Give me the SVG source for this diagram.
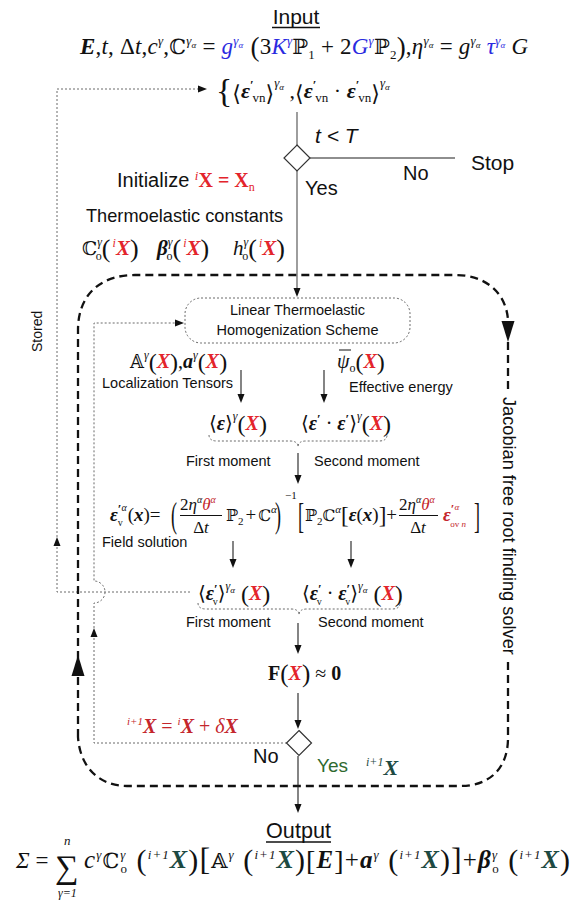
<svg xmlns="http://www.w3.org/2000/svg" width="573" height="907" viewBox="0 0 573 907">
<defs>
<style>
.s{font-family:"Liberation Sans",Arial,sans-serif;fill:#111}
.m{font-family:"Liberation Serif","Times New Roman","DejaVu Serif",serif;fill:#111}
.d{font-family:"DejaVu Serif","DejaVu Sans",serif}
.i{font-style:italic}
.b{font-weight:bold}
.r{fill:#e3242b}
.rr{fill:#c4262c}
.bl{fill:#2a2ae0}
.g{fill:#2f6a2f}
.t{fill:#1d4a42}
.sol{stroke:#222;stroke-width:1.1;fill:none}
.gl{stroke:#6a6a6a;stroke-width:1.3;fill:none}
.dot{stroke:#6a6a6a;stroke-width:1;stroke-dasharray:2 2;fill:none}
.dash{stroke:#111;stroke-width:2.3;stroke-dasharray:8 5;fill:none}
.lab{font-size:14.5px}
</style>
<path id="ah" d="M0,0 L-9,-3.5 L-9,3.5 Z" fill="#111"/>
<path id="big" d="M0,0 L-21,-6.5 L-21,6.5 Z" fill="#111"/>
</defs>
<rect width="573" height="907" fill="#fff"/>

<g id="connectors">
  <path class="gl" d="M297,112 V145 M297,171 V290 M310,158 H455"/>
  <use href="#ah" transform="translate(297,297) rotate(90)"/>
  <path class="dot" d="M190,592 H57 V89 H200"/>
  <use href="#ah" transform="translate(207,89)"/>
  <use href="#ah" transform="translate(57,537) rotate(-90)"/>
  <path class="dot" d="M287,743 H94 V603 A11,11 0 0 0 94,581 V323 H176"/>
  <use href="#ah" transform="translate(184,323)"/>
  <use href="#ah" transform="translate(94,628) rotate(-90)"/>
  <path class="dash" d="M78,737 V330 C78,295 100,275 135,275 H455 C485,275 506,292 508,320"/>
  <path class="dash" d="M508,342 V389"/>
  <path class="dash" d="M508,662 V738 C508,768 490,786 460,786 H127 C100,786 80,768 78,737"/>
  <use href="#big" transform="translate(508,342) rotate(90)"/>
  <use href="#big" transform="translate(78,655) rotate(-90)"/>
  <path class="sol" d="M241,370 V396 M324,370 V396 M298,453 V477 M233,541 V561 M351,541 V561 M298,623 V647 M298,693 V722 M298,756 V806"/>
  <use href="#ah" transform="translate(241,403) rotate(90)"/>
  <use href="#ah" transform="translate(324,403) rotate(90)"/>
  <use href="#ah" transform="translate(298,484) rotate(90)"/>
  <use href="#ah" transform="translate(233,568) rotate(90)"/>
  <use href="#ah" transform="translate(351,568) rotate(90)"/>
  <use href="#ah" transform="translate(298,654) rotate(90)"/>
  <use href="#ah" transform="translate(298,729) rotate(90)"/>
  <use href="#ah" transform="translate(298,813) rotate(90)"/>
  <path class="dot" d="M209,435 Q209,441 217,441 H290 Q298,441 298,447 Q298,441 306,441 H379 Q387,441 387,435"/>
  <path class="dot" d="M198,603 Q198,609 206,609 H291 Q299,609 299,615 Q299,609 307,609 H392 Q400,609 400,603"/>
</g>

<g id="input">
  <text class="s" x="296" y="24" font-size="21" text-anchor="middle">Input</text>
  <line x1="272" y1="27.5" x2="320" y2="27.5" stroke="#111" stroke-width="1.4"/>
  <text class="m" x="80" y="54" font-size="23" textLength="448" lengthAdjust="spacing"><tspan class="b i">E</tspan>,<tspan class="i">t</tspan>, Δ<tspan class="i">t</tspan>,<tspan class="i">c</tspan><tspan font-size="13" dy="-9" class="i">γ</tspan><tspan dy="9">,</tspan><tspan class="d" font-size="21">ℂ</tspan><tspan font-size="13" dy="-9" class="i">γ</tspan><tspan font-size="9" dy="3" class="i">α</tspan><tspan dy="6"> = </tspan><tspan class="bl i">g</tspan><tspan class="bl i" font-size="13" dy="-9">γ</tspan><tspan class="bl i" font-size="9" dy="3">α</tspan><tspan dy="8" font-size="27"> (</tspan><tspan dy="-2">3</tspan><tspan class="bl i">K</tspan><tspan class="bl i" font-size="13" dy="-9">γ</tspan><tspan dy="9" class="d" font-size="21">ℙ</tspan><tspan font-size="13" dy="5">1</tspan><tspan dy="-5"> + 2</tspan><tspan class="bl i">G</tspan><tspan class="bl i" font-size="13" dy="-9">γ</tspan><tspan dy="9" class="d" font-size="21">ℙ</tspan><tspan font-size="13" dy="5">2</tspan><tspan dy="-3" font-size="27">)</tspan><tspan dy="-2">,</tspan><tspan class="i">η</tspan><tspan class="i" font-size="13" dy="-9">γ</tspan><tspan class="i" font-size="9" dy="3">α</tspan><tspan dy="6"> = </tspan><tspan class="i">g</tspan><tspan class="i" font-size="13" dy="-9">γ</tspan><tspan class="i" font-size="9" dy="3">α</tspan><tspan dy="6" class="bl i"> τ</tspan><tspan class="bl i" font-size="13" dy="-9">γ</tspan><tspan class="bl i" font-size="9" dy="3">α</tspan><tspan dy="6" class="i"> G</tspan></text>
  <text class="m" x="216" y="98" font-size="22"><tspan font-size="34" dy="4">{</tspan><tspan class="d" font-size="22" dy="-1">⟨</tspan><tspan dy="-3" class="b i">ε</tspan><tspan class="b" font-size="13" dy="-9">′</tspan><tspan font-size="13" dx="-1" dy="13">vn</tspan><tspan class="d" font-size="22" dy="-1">⟩</tspan><tspan class="i" font-size="13" dy="-14">γ</tspan><tspan class="i" font-size="9" dy="3">α</tspan><tspan dy="8"> ,</tspan><tspan class="d" font-size="22" dy="3">⟨</tspan><tspan dy="-3" class="b i">ε</tspan><tspan class="b" font-size="13" dy="-9">′</tspan><tspan font-size="13" dx="-1" dy="13">vn</tspan><tspan dy="-4"> · </tspan><tspan class="b i">ε</tspan><tspan class="b" font-size="13" dy="-9">′</tspan><tspan font-size="13" dx="-1" dy="13">vn</tspan><tspan class="d" font-size="22" dy="-1">⟩</tspan><tspan class="i" font-size="13" dy="-14">γ</tspan><tspan class="i" font-size="9" dy="3">α</tspan></text>
</g>

<g id="decision-time">
  <polygon points="297,145 310,158 297,171 284,158" fill="#fff" stroke="#333" stroke-width="1.2"/>
  <text class="s i" x="315" y="143" font-size="21">t &lt; T</text>
  <text class="s" x="471" y="170" font-size="21">Stop</text>
  <text class="s" x="403" y="180" font-size="20">No</text>
  <text class="s" x="305" y="195" font-size="20">Yes</text>
</g>

<g id="initialize">
  <text class="s" x="117" y="187" font-size="20">Initialize <tspan class="m i r" font-size="13" dy="-7">i</tspan><tspan class="m b r" dy="7">X = X</tspan><tspan class="m r" font-size="12" dy="4">n</tspan></text>
  <text class="s" x="86" y="222" font-size="18.2">Thermoelastic constants</text>
  <text class="m" x="82" y="255" font-size="21"><tspan class="d" font-size="19">ℂ</tspan><tspan class="i" font-size="12" dy="-9">γ</tspan><tspan font-size="12" dx="-6" dy="14">o</tspan><tspan font-size="26" dy="-3">(</tspan><tspan class="i r" font-size="12" dx="2" dy="-10">i</tspan><tspan class="b i r" dy="8">X</tspan><tspan font-size="26" dy="2">)</tspan></text>
  <text class="m" x="157" y="255" font-size="21"><tspan class="b i">β</tspan><tspan class="i" font-size="12" dy="-9">γ</tspan><tspan font-size="12" dx="-6" dy="14">o</tspan><tspan font-size="26" dy="-3">(</tspan><tspan class="i r" font-size="12" dx="2" dy="-10">i</tspan><tspan class="b i r" dy="8">X</tspan><tspan font-size="26" dy="2">)</tspan></text>
  <text class="m" x="233" y="255" font-size="21"><tspan class="i">h</tspan><tspan class="i" font-size="12" dy="-9">γ</tspan><tspan font-size="12" dx="-6" dy="14">o</tspan><tspan font-size="26" dy="-3">(</tspan><tspan class="i r" font-size="12" dx="2" dy="-10">i</tspan><tspan class="b i r" dy="8">X</tspan><tspan font-size="26" dy="2">)</tspan></text>
</g>

<g id="homogenization">
  <rect x="185" y="298" width="225" height="45" rx="16" class="dot"/>
  <text class="s lab" x="297.5" y="315" text-anchor="middle">Linear Thermoelastic</text>
  <text class="s lab" x="297.5" y="335" text-anchor="middle">Homogenization Scheme</text>
</g>

<g id="localization">
  <text class="m" x="130" y="368" font-size="20"><tspan class="d" font-size="18">𝔸</tspan><tspan class="i" font-size="12" dy="-9">γ</tspan><tspan font-size="24" dy="11">(</tspan><tspan class="b i r" dy="-2">X</tspan><tspan font-size="24" dy="2">)</tspan><tspan dy="-2">,</tspan><tspan class="b i">a</tspan><tspan class="i" font-size="12" dy="-9">γ</tspan><tspan font-size="24" dy="11">(</tspan><tspan class="b i r" dy="-2">X</tspan><tspan font-size="24" dy="2">)</tspan></text>
  <text class="s lab" x="102" y="388">Localization Tensors</text>
</g>

<g id="effective-energy">
  <line x1="339" y1="350" x2="351" y2="350" stroke="#111" stroke-width="1"/>
  <text class="m" x="337" y="368" font-size="20"><tspan class="i">ψ</tspan><tspan font-size="12" dy="4">o</tspan><tspan font-size="24" dy="-2">(</tspan><tspan class="b i r" dy="-2">X</tspan><tspan font-size="24" dy="2">)</tspan></text>
  <text class="s lab" x="349" y="392">Effective energy</text>
</g>

<g id="moments-1">
  <text class="m" x="209" y="430" font-size="20"><tspan class="d" font-size="20">⟨</tspan><tspan class="b i">ε</tspan><tspan class="d" font-size="20">⟩</tspan><tspan class="i" font-size="12" dy="-10">γ</tspan><tspan font-size="24" dy="12">(</tspan><tspan class="b i r" dy="-2">X</tspan><tspan font-size="24" dy="2">)</tspan></text>
  <text class="m" x="301" y="430" font-size="20"><tspan class="d" font-size="20">⟨</tspan><tspan class="b i">ε</tspan><tspan class="b" font-size="13" dy="-7">′</tspan><tspan dy="7"> · </tspan><tspan class="b i">ε</tspan><tspan class="b" font-size="13" dy="-7">′</tspan><tspan class="d" font-size="20" dy="7">⟩</tspan><tspan class="i" font-size="12" dy="-10">γ</tspan><tspan font-size="24" dy="12">(</tspan><tspan class="b i r" dy="-2">X</tspan><tspan font-size="24" dy="2">)</tspan></text>
  <text class="s lab" x="186" y="466">First moment</text>
  <text class="s lab" x="314" y="466">Second moment</text>
</g>

<g id="field-solution">
  <text class="m" x="110" y="521" font-size="19"><tspan class="b i">ε</tspan><tspan class="b" font-size="13" dy="-8">′</tspan><tspan class="i" font-size="10" dy="-2">α</tspan><tspan font-size="10" dx="-9" dy="15">v</tspan><tspan dx="5" dy="-5">(</tspan><tspan class="b i">x</tspan>)=</text>
  <text class="m" font-size="20" transform="translate(171,527) scale(0.9,1.75)">(</text>
  <text class="m" x="180" y="510" font-size="17">2<tspan class="i">η</tspan><tspan class="i" font-size="10" dy="-7">α</tspan><tspan class="i rr" dy="7">θ</tspan><tspan class="i rr" font-size="10" dy="-7">α</tspan></text>
  <line x1="180" y1="515.5" x2="222" y2="515.5" stroke="#111" stroke-width="1"/>
  <text class="m" x="201" y="533" font-size="17" text-anchor="middle">Δ<tspan class="i">t</tspan></text>
  <text class="m" x="226" y="521" font-size="19"><tspan class="d" font-size="16">ℙ</tspan><tspan font-size="11" dy="4">2</tspan><tspan dx="2" dy="-4">+</tspan><tspan class="d" font-size="16" dx="2">ℂ</tspan><tspan class="i" font-size="11" dy="-8">α</tspan></text>
  <text class="m" font-size="20" transform="translate(275,527) scale(0.9,1.75)">)</text>
  <text class="m" x="285" y="499" font-size="11">−1</text>
  <text class="m" font-size="20" transform="translate(298,528) scale(0.9,1.8)">[</text>
  <text class="m" x="305" y="521" font-size="19"><tspan class="d" font-size="16">ℙ</tspan><tspan font-size="11" dy="4">2</tspan><tspan class="d" font-size="16" dy="-4">ℂ</tspan><tspan class="i" font-size="11" dy="-8">α</tspan><tspan font-size="23" dy="10">[</tspan><tspan class="b i" dy="-2">ε</tspan>(<tspan class="b i">x</tspan>)<tspan font-size="23" dy="2">]</tspan><tspan dy="-2">+</tspan></text>
  <text class="m" x="399" y="510" font-size="17">2<tspan class="i">η</tspan><tspan class="i" font-size="10" dy="-7">α</tspan><tspan class="i rr" dy="7">θ</tspan><tspan class="i rr" font-size="10" dy="-7">α</tspan></text>
  <line x1="399" y1="515.5" x2="438" y2="515.5" stroke="#111" stroke-width="1"/>
  <text class="m" x="418" y="533" font-size="17" text-anchor="middle">Δ<tspan class="i">t</tspan></text>
  <text class="m rr" x="443" y="521" font-size="19"><tspan class="b i">ε</tspan><tspan class="b" font-size="13" dy="-8">′</tspan><tspan class="i" font-size="9" dy="-3">α</tspan><tspan font-size="9" dx="-9" dy="17">ov </tspan><tspan class="i" font-size="9">n</tspan></text>
  <text class="m" font-size="20" transform="translate(474,528) scale(0.9,1.8)">]</text>
  <text class="s lab" x="102" y="547">Field solution</text>
</g>

<g id="moments-2">
  <text class="m" x="198" y="600" font-size="20"><tspan class="d" font-size="20">⟨</tspan><tspan class="b i">ε</tspan><tspan class="b" font-size="13" dy="-7">′</tspan><tspan font-size="10" dx="-5" dy="12">v</tspan><tspan class="d" font-size="20" dy="-5">⟩</tspan><tspan class="i" font-size="12" dy="-10">γ</tspan><tspan class="i" font-size="9" dy="3">α</tspan><tspan font-size="24" dy="9"> (</tspan><tspan class="b i r" dy="-2">X</tspan><tspan font-size="24" dy="2">)</tspan></text>
  <text class="m" x="302" y="600" font-size="20"><tspan class="d" font-size="20">⟨</tspan><tspan class="b i">ε</tspan><tspan class="b" font-size="13" dy="-7">′</tspan><tspan font-size="10" dx="-5" dy="12">v</tspan><tspan dy="-5"> · </tspan><tspan class="b i">ε</tspan><tspan class="b" font-size="13" dy="-7">′</tspan><tspan font-size="10" dx="-5" dy="12">v</tspan><tspan class="d" font-size="20" dy="-5">⟩</tspan><tspan class="i" font-size="12" dy="-10">γ</tspan><tspan class="i" font-size="9" dy="3">α</tspan><tspan font-size="24" dy="9"> (</tspan><tspan class="b i r" dy="-2">X</tspan><tspan font-size="24" dy="2">)</tspan></text>
  <text class="s lab" x="186" y="627">First moment</text>
  <text class="s lab" x="318" y="627">Second moment</text>
</g>

<g id="residual">
  <text class="m" x="268" y="680" font-size="20"><tspan class="b">F</tspan><tspan font-size="25" dy="2">(</tspan><tspan class="b i r" dy="-2">X</tspan><tspan font-size="25" dy="2">)</tspan><tspan dy="-2"> ≈ </tspan><tspan class="b">0</tspan></text>
</g>

<g id="decision-converged">
  <polygon points="299,730.5 311.5,743 299,755.5 286.5,743" fill="#fff" stroke="#333" stroke-width="1.2"/>
  <text class="m rr" x="127" y="733" font-size="20"><tspan class="i" font-size="11" dy="-8">i+1</tspan><tspan class="b i" dy="8">X</tspan> = <tspan class="i" font-size="11" dy="-8">i</tspan><tspan class="b i" dy="8">X</tspan> + <tspan class="i">δ</tspan><tspan class="b i">X</tspan></text>
  <text class="s" x="253" y="763" font-size="20">No</text>
  <text class="s g" x="317" y="772" font-size="19">Yes</text>
  <text class="m t" x="366" y="775" font-size="22"><tspan class="i" font-size="12" dy="-9">i+1</tspan><tspan class="b i" dy="9">X</tspan></text>
</g>

<g id="solver-label">
  <text class="s" font-size="18.2" transform="translate(503,397) rotate(90)">Jacobian free root finding solver</text>
  <text class="s" font-size="14" transform="translate(42,352) rotate(-90)">Stored</text>
</g>

<g id="output">
  <text class="s" x="298.5" y="838" font-size="21.6" text-anchor="middle">Output</text>
  <line x1="266" y1="842" x2="331" y2="842" stroke="#111" stroke-width="1.4"/>
  <text class="m" x="16" y="868" font-size="23"><tspan class="i">Σ</tspan> =</text>
  <text class="m"><tspan x="55" y="878" font-size="33">∑</tspan><tspan class="i" x="64" y="845" font-size="13">n</tspan><tspan class="i" x="58" y="897" font-size="12">γ=1</tspan></text>
  <text class="m" x="84" y="868" font-size="25" textLength="486" lengthAdjust="spacing"><tspan class="i">c</tspan><tspan class="i" font-size="13" dy="-9">γ</tspan><tspan class="d" font-size="21" dy="9">ℂ</tspan><tspan class="i" font-size="13" dy="-9">γ</tspan><tspan font-size="13" dx="-6" dy="14">o</tspan><tspan font-size="30" dy="-3"> (</tspan><tspan class="i" font-size="13" dy="-11">i+1</tspan><tspan class="b i t" font-size="26" dy="9">X</tspan><tspan font-size="30" dy="2">)</tspan><tspan font-size="32">[</tspan><tspan class="d" font-size="21" dy="-2">𝔸</tspan><tspan class="i" font-size="13" dy="-9">γ</tspan><tspan font-size="30" dy="11"> (</tspan><tspan class="i" font-size="13" dy="-11">i+1</tspan><tspan class="b i t" font-size="26" dy="9">X</tspan><tspan font-size="30" dy="2">)</tspan><tspan font-size="28">[</tspan><tspan class="b i" dy="-2">E</tspan><tspan font-size="28" dy="2">]</tspan><tspan dy="-2">+</tspan><tspan class="b i">a</tspan><tspan class="i" font-size="13" dy="-9">γ</tspan><tspan font-size="30" dy="11"> (</tspan><tspan class="i" font-size="13" dy="-11">i+1</tspan><tspan class="b i t" font-size="26" dy="9">X</tspan><tspan font-size="30" dy="2">)</tspan><tspan font-size="32">]</tspan><tspan dy="-2">+</tspan><tspan class="b i">β</tspan><tspan class="i" font-size="13" dy="-9">γ</tspan><tspan font-size="13" dx="-6" dy="14">o</tspan><tspan font-size="30" dy="-3"> (</tspan><tspan class="i" font-size="13" dy="-11">i+1</tspan><tspan class="b i t" font-size="26" dy="9">X</tspan><tspan font-size="30" dy="2">)</tspan></text>
</g>
</svg>
